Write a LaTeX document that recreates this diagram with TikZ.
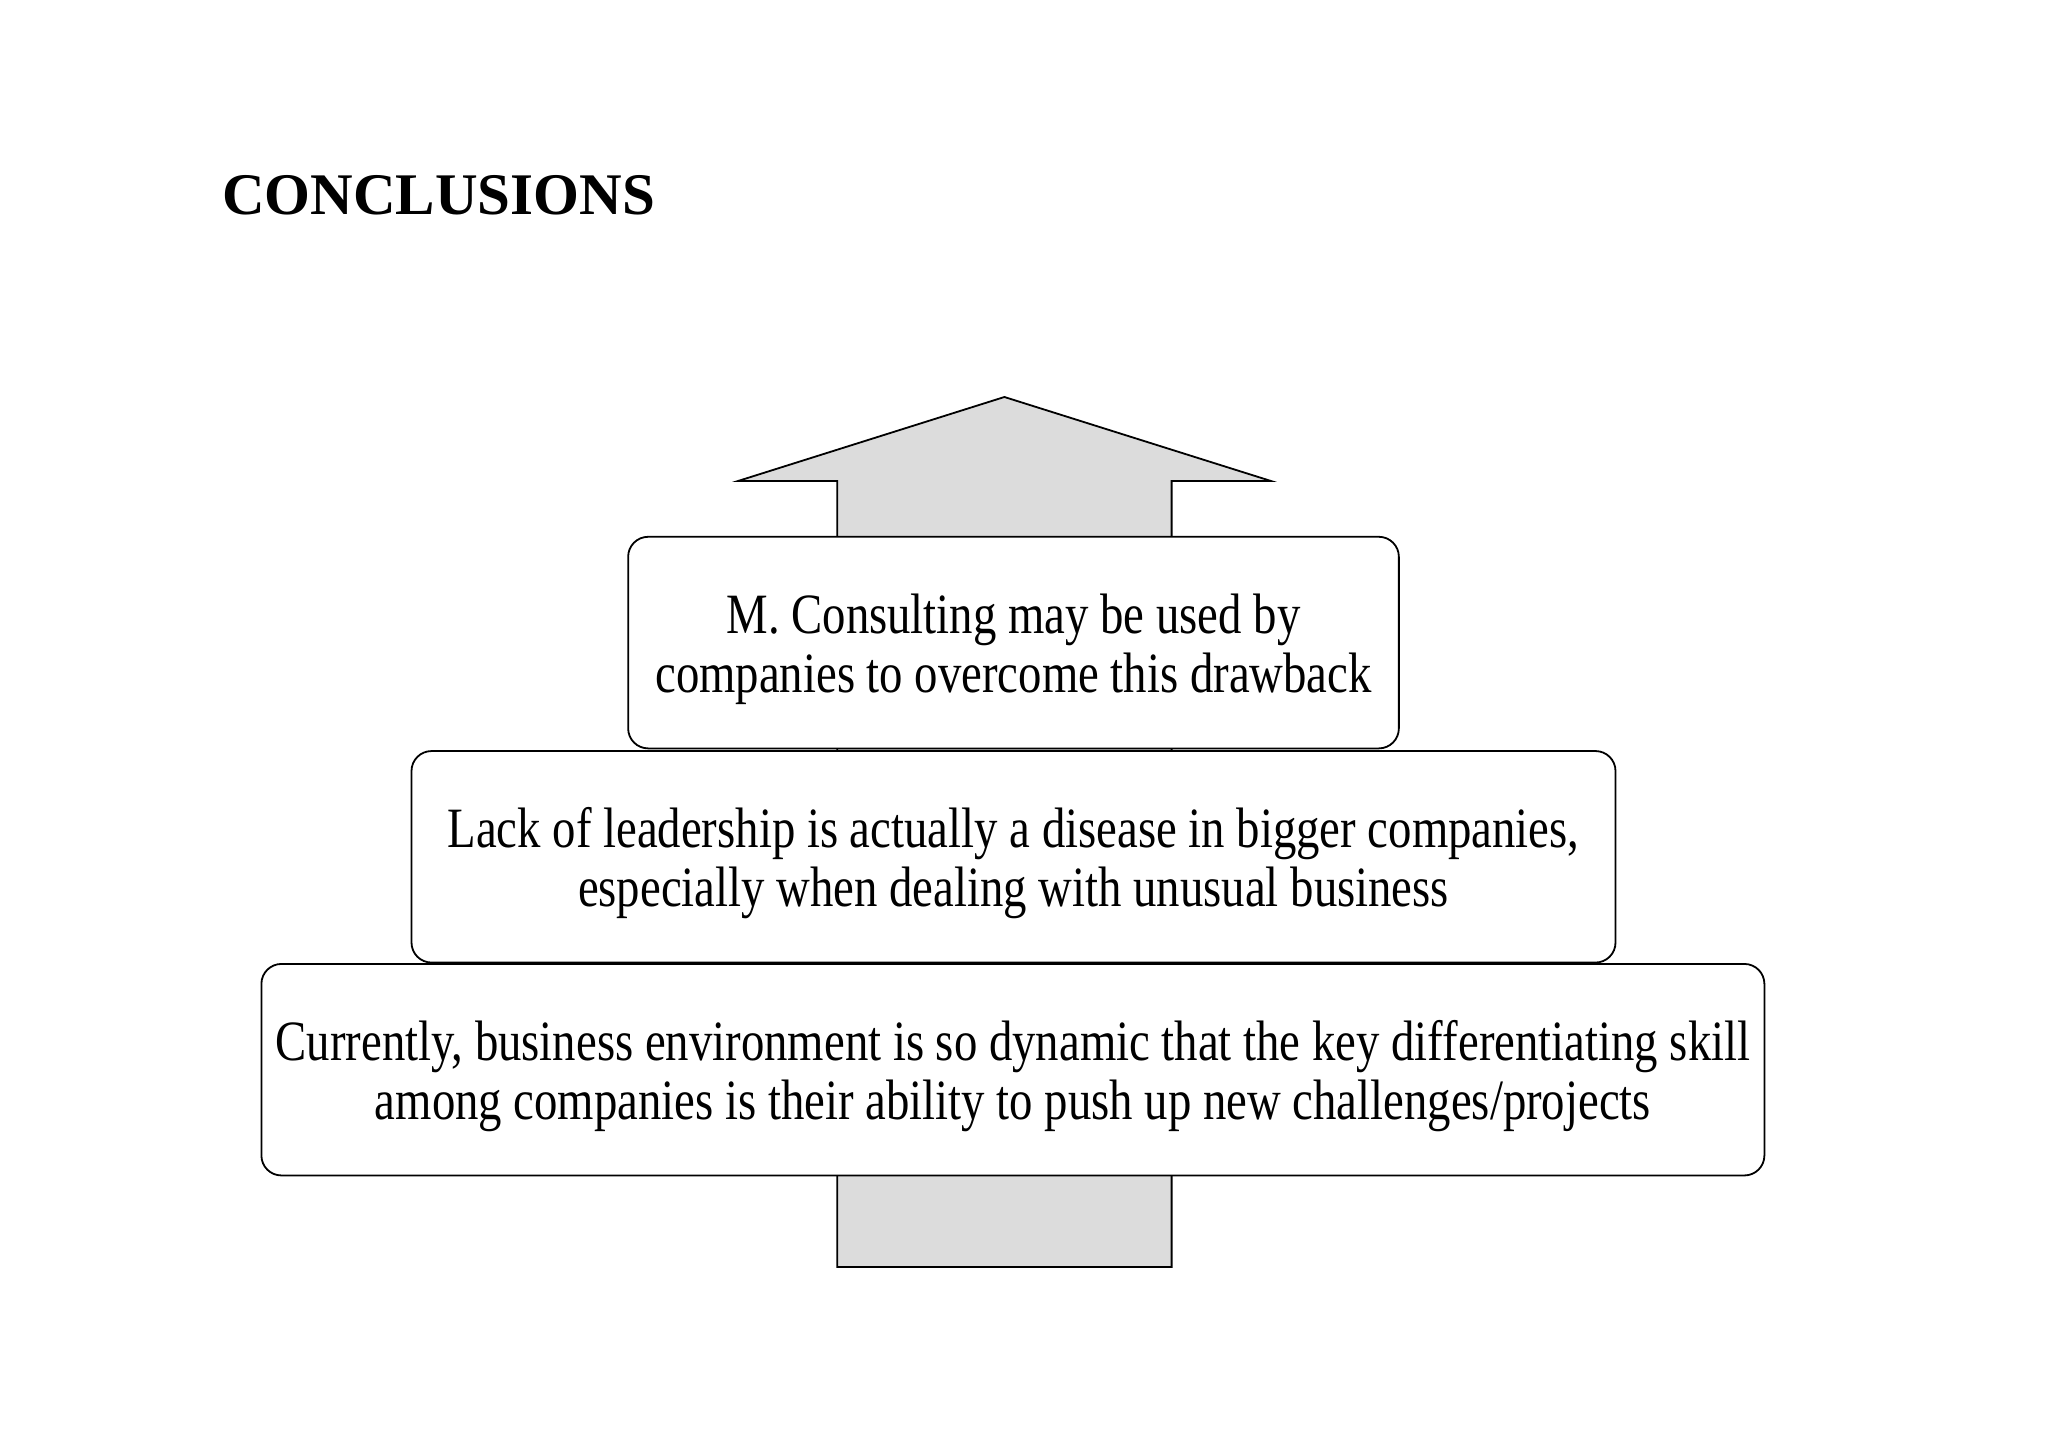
\documentclass[tikz,border=0pt]{standalone}
\usepackage{fontspec}
\setmainfont{Liberation Serif}
\newfontfamily\boxfont[FakeStretch=0.82]{Liberation Serif}
\definecolor{arrowgray}{RGB}{220,220,220}
\tikzset{
  stagebox/.style={draw=black, line width=1.8pt, fill=white, rounded corners=20pt, inner sep=0pt},
  stagetext/.style={align=center, inner sep=0pt, font=\boxfont\fontsize{57}{59}\selectfont},
  bigarrow/.style={draw=black, line width=1.8pt, fill=arrowgray, line join=miter}
}
\begin{document}
\begin{tikzpicture}[x=1pt,y=-1pt]
\useasboundingbox (0,0) rectangle (2048,1447);
% title
\node[anchor=base west, inner sep=0pt, font=\bfseries\fontsize{59}{60}\selectfont] (title) at (222,215) {CONCLUSIONS};
% arrow
\draw[bigarrow] (1004.4,397) -- (1271,481) -- (1171.6,481) -- (1171.6,1267)
  -- (837.2,1267) -- (837.2,481) -- (738,481) -- cycle;
% boxes
\node[stagebox, minimum width=1503pt, minimum height=211.5pt] (b3) at (1012.9,1069.7) {};
\node[stagetext] (t3) at ([yshift=-6.5pt]b3.center)
  {Currently, business environment is so dynamic that the key differentiating skill\\
   among companies is their ability to push up new challenges/projects};
\node[stagebox, minimum width=1204pt, minimum height=211.5pt] (b2) at (1013.5,856.8) {};
\node[stagetext] (t2) at ([yshift=-6.5pt]b2.center)
  {Lack of leadership is actually a disease in bigger companies,\\
   especially when dealing with unusual business};
\node[stagebox, minimum width=770.7pt, minimum height=211.6pt] (b1) at (1013.5,642.6) {};
\node[stagetext] (t1) at ([yshift=-6.5pt]b1.center)
  {M. Consulting may be used by\\ companies to overcome this drawback};
\end{tikzpicture}
\end{document}
